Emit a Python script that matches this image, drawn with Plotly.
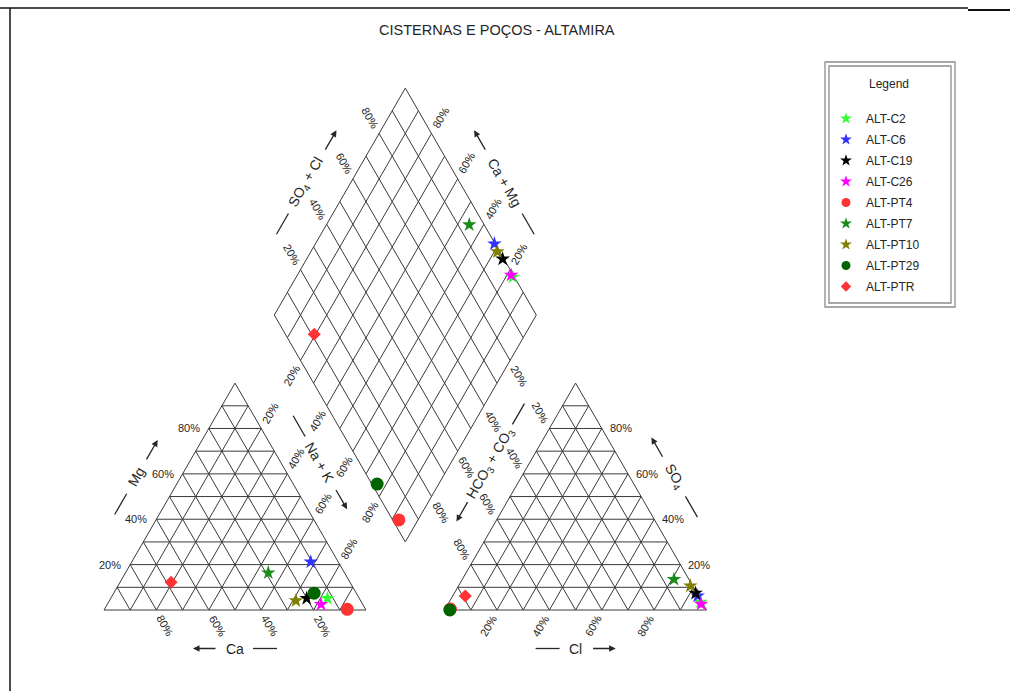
import math
import plotly.graph_objects as go

# ---------------- data (percent of meq) ----------------
TITLE = "CISTERNAS E POÇOS - ALTAMIRA"
samples = ["ALT-C2", "ALT-C6", "ALT-C19", "ALT-C26", "ALT-PT4",
           "ALT-PT7", "ALT-PT10", "ALT-PT29", "ALT-PTR"]
ca   = [12.2, 10.5, 20.1, 15.9,  7.0, 29.1, 24.7, 16.1, 68.3]
mg   = [ 5.1, 21.2,  5.1,  2.5,  0.3, 16.4,  4.1,  7.4, 12.2]
nak  = [82.7, 68.3, 74.8, 81.6, 92.7, 54.5, 71.2, 76.5, 19.5]
hco3 = [ 0.6,  0.3,  0.5,  0.8, 97.6,  5.7,  0.9, 98.0, 89.0]
so4  = [ 3.5,  6.2,  7.4,  2.6,  0.4, 13.5, 10.6,  0.0,  6.2]
cl   = [95.9, 93.5, 92.1, 96.6,  2.0, 80.8, 88.5,  2.0,  4.8]
colors  = ["#33ff33", "#3333ff", "#000000", "#ff00ff", "#ff3333",
           "#1a8c1a", "#808000", "#006400", "#ff3333"]
symbols = ["star", "star", "star", "star", "circle",
           "star", "star", "circle", "diamond"]
tick_vals = [20, 40, 60, 80]

# ---------------- geometry ----------------
W, H = 1010, 691
PX = 2.62            # pixels per percent unit
X0_PX, Y0_PX = 104, 610
GAP = 30
S3 = math.sqrt(3) / 2
BX, BY = 100 + GAP / 2, S3 * GAP   # bottom vertex of the diamond

FONT = "Liberation Sans, Arial, sans-serif"
GRID = "#3a3a3a"
TXT = "#262626"


def cat_xy(c, m, n):
    s = c + m + n
    m, n = 100 * m / s, 100 * n / s
    return n + 0.5 * m, S3 * m


def an_xy(h, s4, c):
    s = h + s4 + c
    s4, c = 100 * s4 / s, 100 * c / s
    return 100 + GAP + c + 0.5 * s4, S3 * s4


def dia_xy(cm, scl):
    return BX - 0.5 * cm + 0.5 * scl, BY + S3 * cm + S3 * scl


fig = go.Figure()

# ---------------- grid ----------------
gx, gy = [], []


def seg(p, q):
    gx.extend([p[0], q[0], None])
    gy.extend([p[1], q[1], None])


for off in (0, 100 + GAP):
    A, B, C = (off, 0), (off + 100, 0), (off + 50, S3 * 100)
    seg(A, B); seg(B, C); seg(C, A)
    for i in range(10, 100, 10):
        seg((off + 0.5 * i, S3 * i), (off + 100 - 0.5 * i, S3 * i))
        seg((off + i, 0), (off + i + 0.5 * (100 - i), S3 * (100 - i)))
        seg((off + 100 - i, 0), (off + 0.5 * (100 - i), S3 * (100 - i)))

seg(dia_xy(0, 0), dia_xy(100, 0)); seg(dia_xy(100, 0), dia_xy(100, 100))
seg(dia_xy(100, 100), dia_xy(0, 100)); seg(dia_xy(0, 100), dia_xy(0, 0))
for k in range(10, 100, 10):
    seg(dia_xy(k, 0), dia_xy(k, 100))
    seg(dia_xy(0, k), dia_xy(100, k))

fig.add_trace(go.Scatter(x=gx, y=gy, mode="lines", hoverinfo="skip",
                         line=dict(color=GRID, width=1), showlegend=False))

# ---------------- samples ----------------
for i, name in enumerate(samples):
    p1 = cat_xy(ca[i], mg[i], nak[i])
    p2 = an_xy(hco3[i], so4[i], cl[i])
    cm = 100 * (ca[i] + mg[i]) / (ca[i] + mg[i] + nak[i])
    scl = 100 * (so4[i] + cl[i]) / (hco3[i] + so4[i] + cl[i])
    p3 = dia_xy(cm, scl)
    size = {"star": 11, "circle": 13, "diamond": 10}[symbols[i]]
    fig.add_trace(go.Scatter(
        x=[p1[0], p2[0], p3[0]], y=[p1[1], p2[1], p3[1]], mode="markers",
        name=name, showlegend=False,
        marker=dict(symbol=symbols[i], color=colors[i], size=size,
                    line=dict(width=0))))
    lsize = {"star": 9, "circle": 9, "diamond": 8}[symbols[i]]
    fig.add_trace(go.Scatter(
        x=[None], y=[None], mode="markers", name=name, legendgroup=name,
        marker=dict(symbol=symbols[i], color=colors[i], size=lsize,
                    line=dict(width=0))))

# ---------------- tick labels ----------------
ann = []
D = 18  # label distance from edge, pixels


def label(p, text, u=None, angle=0, xanchor="center", xshift=0):
    a = dict(x=p[0], y=p[1], text=text, showarrow=False, textangle=angle,
             font=dict(family=FONT, size=11, color=TXT),
             xanchor=xanchor, yanchor="middle", xshift=xshift, yshift=0)
    if u is not None:
        a["xshift"] = u[0] * D
        a["yshift"] = u[1] * D
    ann.append(a)


UR, UL = (0.5, S3), (-0.5, S3)
DR, DL = (0.5, -S3), (-0.5, -S3)
for v in tick_vals:
    t = f"{v}%"
    # cation triangle
    label((0.5 * v, S3 * v), t, xanchor="right", xshift=-7)               # Mg
    label((100 - v, 0), t, DR, 60)                                          # Ca
    label((v + 0.5 * (100 - v), S3 * (100 - v)), t, UR, -60)              # Na+K
    # anion triangle
    o = 100 + GAP
    label((o + 100 - 0.5 * v, S3 * v), t, xanchor="left", xshift=6)        # SO4
    label((o + v, 0), t, DL, -60)                                           # Cl
    label((o + 0.5 * (100 - v), S3 * (100 - v)), t, UL, 60)               # HCO3
    # diamond
    label(dia_xy(100 - v, 0), t, DL, -60)                                   # Na+K
    label(dia_xy(v, 100), t, UR, -60)                                       # Ca+Mg
    label(dia_xy(100, v), t, UL, 60)                                        # SO4+Cl
    label(dia_xy(0, 100 - v), t, DR, 60)                                    # HCO3

# ---------------- axis titles with arrows ----------------
shapes = []
OFF = 38.5 / PX
GAPT, LEN = 9, 24


def add_title(center, u, text, half, angle):
    cx, cy = center
    a0 = (half + GAPT) / PX
    a1 = (half + GAPT + LEN) / PX
    ann.append(dict(x=cx, y=cy, text=text, showarrow=False, textangle=angle,
                    font=dict(family=FONT, size=14, color=TXT),
                    xanchor="center", yanchor="middle"))
    # arrow (head in direction u)
    ann.append(dict(x=cx + u[0] * a1, y=cy + u[1] * a1,
                    ax=cx + u[0] * a0, ay=cy + u[1] * a0,
                    axref="x", ayref="y", xref="x", yref="y", text="",
                    showarrow=True, arrowhead=2, arrowsize=1,
                    arrowwidth=1.3, arrowcolor=TXT))
    # plain dash on the other side
    shapes.append(dict(type="line", xref="x", yref="y",
                       x0=cx - u[0] * a0, y0=cy - u[1] * a0,
                       x1=cx - u[0] * a1, y1=cy - u[1] * a1,
                       line=dict(color=TXT, width=1.3)))


add_title((25 - S3 * OFF, S3 * 50 + 0.5 * OFF), UR, "Mg", 10, -60)
add_title((50, -OFF), (-1, 0), "Ca", 9, 0)
add_title(((75 + 90) / 2, (S3 * 50 + dia_xy(50, 0)[1]) / 2), DR, "Na + K", 21, 60)
add_title((180, -OFF), (1, 0), "Cl", 7, 0)
add_title((205 + S3 * OFF, S3 * 50 + 0.5 * OFF), UL, "SO<sub>4</sub>", 13, 60)
mid_l = dia_xy(0, 50)
add_title(((mid_l[0] + 155) / 2, (mid_l[1] + S3 * 50) / 2), DL,
          "HCO<sub>3</sub> + CO<sub>3</sub>", 35, -60)
pm = dia_xy(100, 50)
add_title((pm[0] - S3 * OFF, pm[1] + 0.5 * OFF), UR, "SO<sub>4</sub> + Cl", 27, -60)
pm = dia_xy(50, 100)
add_title((pm[0] + S3 * OFF, pm[1] + 0.5 * OFF), UL, "Ca + Mg", 27, 60)

# ---------------- title, legend title ----------------
def px2paper(x, y):
    return x / W, 1 - y / H


tx, ty = px2paper(497, 30)
ann.append(dict(x=tx, y=ty, xref="paper", yref="paper", text=TITLE,
                showarrow=False, font=dict(family=FONT, size=14.5, color=TXT),
                xanchor="center", yanchor="middle"))
lx, ly = px2paper(889, 84)
ann.append(dict(x=lx, y=ly, xref="paper", yref="paper", text="Legend",
                showarrow=False, font=dict(family=FONT, size=12, color=TXT),
                xanchor="center", yanchor="middle"))

# legend double frame
for (x0, y0, x1, y1) in [(825, 62, 955, 307), (829, 66, 951, 303)]:
    a, b = px2paper(x0, y0)
    c, d = px2paper(x1, y1)
    shapes.append(dict(type="rect", xref="paper", yref="paper",
                       x0=a, y0=d, x1=c, y1=b,
                       line=dict(color="#8c8c8c", width=1.3)))

# page frame lines
for (x0, y0, x1, y1, w) in [(0, 8, 968, 8, 1.5), (968, 10, 1010, 10, 2),
                            (10, 8, 10, 691, 1.5)]:
    a, b = px2paper(x0, y0)
    c, d = px2paper(x1, y1)
    shapes.append(dict(type="line", xref="paper", yref="paper",
                       x0=a, y0=b, x1=c, y1=d,
                       line=dict(color="#111111", width=w)))

legx, legy = px2paper(826, 104)
fig.update_layout(
    width=W, height=H, autosize=False,
    margin=dict(l=0, r=0, t=0, b=0, pad=0),
    paper_bgcolor="white", plot_bgcolor="white",
    xaxis=dict(range=[-X0_PX / PX, (W - X0_PX) / PX], visible=False,
               fixedrange=True),
    yaxis=dict(range=[-(H - Y0_PX) / PX, Y0_PX / PX], visible=False,
               fixedrange=True),
    showlegend=True,
    legend=dict(x=legx, y=legy, xanchor="left", yanchor="top",
                font=dict(family=FONT, size=12, color=TXT),
                bgcolor="rgba(0,0,0,0)", borderwidth=0,
                traceorder="grouped", tracegroupgap=2, itemsizing="trace"),
    annotations=ann, shapes=shapes,
)

fig.write_html("out.html")
